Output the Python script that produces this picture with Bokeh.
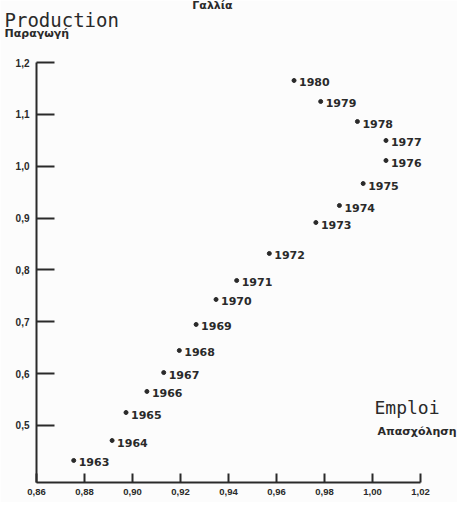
from bokeh.plotting import figure
from bokeh.models import Label, LabelSet, ColumnDataSource, FixedTicker, Range1d
from bokeh.core.properties import value
from bokeh.embed import file_html
from bokeh.resources import INLINE

# --- data ---
years = [1963, 1964, 1965, 1966, 1967, 1968, 1969, 1970, 1971,
         1972, 1973, 1974, 1975, 1976, 1977, 1978, 1979, 1980]
emploi = [0.8755, 0.8915, 0.8973, 0.9060, 0.9130, 0.9195, 0.9265, 0.9348, 0.9434,
          0.9570, 0.9764, 0.9862, 0.9961, 1.0056, 1.0056, 0.9937, 0.9784, 0.9673]
production = [0.4325, 0.4710, 0.5250, 0.5656, 0.6020, 0.6446, 0.6948, 0.7430, 0.7796,
              0.8317, 0.8914, 0.9242, 0.9666, 1.0110, 1.0496, 1.0862, 1.1248, 1.1653]

x_ticks = [0.86, 0.88, 0.90, 0.92, 0.94, 0.96, 0.98, 1.00, 1.02]
x_tick_labels = ["0,86", "0,88", "0,90", "0,92", "0,94", "0,96", "0,98", "1,00", "1,02"]
y_ticks = [0.5, 0.6, 0.7, 0.8, 0.9, 1.0, 1.1, 1.2]
y_tick_labels = ["0,5", "0,6", "0,7", "0,8", "0,9", "1,0", "1,1", "1,2"]

title_text = "Γαλλία"
y_title = "Production"
y_title_gr = "Παραγωγή"
x_title = "Emploi"
x_title_gr = "Απασχόληση"

INK = "#2a2a2a"
BG = "#fcfcfc"

src = ColumnDataSource(dict(emploi=emploi, production=production,
                            label=[str(y) for y in years]))

p = figure(width=457, height=502,
           x_range=Range1d(0.86, 1.0354), y_range=Range1d(0.39, 1.2),
           output_backend="svg", toolbar_location=None,
           min_border_left=36, min_border_right=0,
           min_border_top=62, min_border_bottom=20)
p.xgrid.visible = False
p.ygrid.visible = False
p.outline_line_color = None
p.background_fill_color = BG
p.border_fill_color = BG

for ax, ticks, labels, tin, stand in ((p.xaxis[0], x_ticks, x_tick_labels, 9, 6),
                                      (p.yaxis[0], y_ticks, y_tick_labels, 18, 7)):
    ax.ticker = FixedTicker(ticks=ticks)
    ax.major_label_overrides = dict(zip(ticks, labels))
    ax.major_tick_in = tin
    ax.major_tick_out = 0
    ax.minor_tick_line_color = None
    ax.axis_line_width = 2
    ax.axis_line_color = INK
    ax.major_tick_line_width = 2
    ax.major_tick_line_color = INK
    ax.major_label_text_font = "Liberation Sans"
    ax.major_label_text_font_style = "bold"
    ax.major_label_text_color = INK
    ax.major_label_standoff = stand
p.xaxis.bounds = (x_ticks[0], x_ticks[-1])
p.xaxis.major_label_text_font_size = "9.5px"
p.yaxis.major_label_text_font_size = "10px"

p.scatter(x="emploi", y="production", source=src, size=4, color=INK)
p.add_layout(LabelSet(x="emploi", y="production", text="label", source=src,
                      x_offset=5, y_offset=-2, text_baseline="middle",
                      text_font=value("DejaVu Sans"), text_font_style="bold",
                      text_font_size="11px", text_color=INK))


def canvas_label(x, y, text, font, size, bold=False, align="left"):
    return Label(x=x, y=y, x_units="canvas", y_units="canvas", text=text,
                 text_align=align, text_baseline="alphabetic", text_font=font,
                 text_font_style="bold" if bold else "normal",
                 text_font_size=size, text_color=INK)


p.add_layout(canvas_label(212, 4.5, title_text, "DejaVu Sans", "11px", True, "center"), "above")
p.add_layout(canvas_label(4, 19.5, y_title, "DejaVu Sans Mono", "19px"), "above")
p.add_layout(canvas_label(4, 32.5, y_title_gr, "DejaVu Sans", "11px", True), "above")
p.add_layout(canvas_label(374, 407, x_title, "DejaVu Sans Mono", "18px"))
p.add_layout(canvas_label(377, 431, x_title_gr, "DejaVu Sans", "11px", True))

open("out.html", "w").write(file_html(p, INLINE))
